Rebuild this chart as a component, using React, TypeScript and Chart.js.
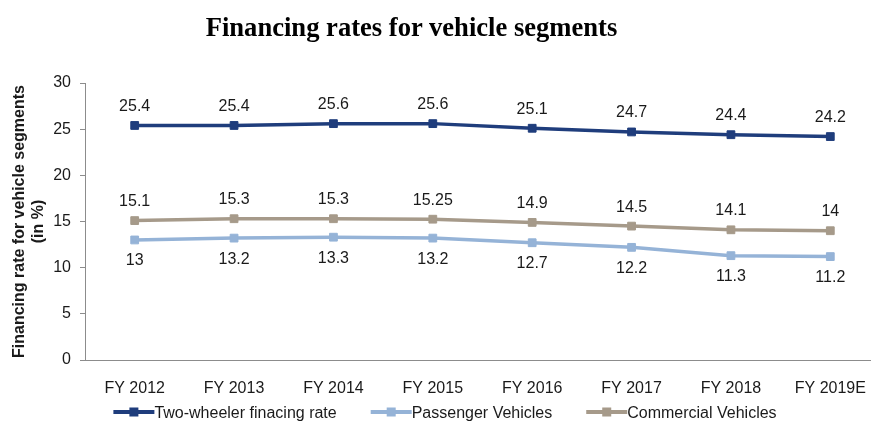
import React, { useEffect, useRef } from "react";
import { Chart, registerables } from "chart.js";

Chart.register(...registerables);

const categories = ["FY 2012", "FY 2013", "FY 2014", "FY 2015", "FY 2016", "FY 2017", "FY 2018", "FY 2019E"];
const twoWheeler = [25.4, 25.4, 25.6, 25.6, 25.1, 24.7, 24.4, 24.2];
const passenger = [13, 13.2, 13.3, 13.2, 12.7, 12.2, 11.3, 11.2];
const commercial = [15.1, 15.3, 15.3, 15.25, 14.9, 14.5, 14.1, 14];
const seriesNames = ["Two-wheeler finacing rate", "Passenger Vehicles", "Commercial Vehicles"];
const seriesColors = ["#1F3D7C", "#95B3D7", "#A69A8A"];
const labelBelow = [false, true, false];
const yTitle = ["Financing rate for vehicle segments", "(in %)"];
const chartTitle = "Financing rates for vehicle segments";

const FONT = '"Liberation Sans", Arial, sans-serif';

const valueLabels = {
  id: "valueLabels",
  afterDatasetsDraw(chart: any) {
    const ctx = chart.ctx;
    ctx.save();
    ctx.font = `16px ${FONT}`;
    ctx.fillStyle = "#1a1a1a";
    ctx.textAlign = "center";
    ctx.textBaseline = "middle";
    chart.data.datasets.forEach((ds: any, i: number) => {
      const meta = chart.getDatasetMeta(i);
      meta.data.forEach((pt: any, j: number) => {
        const dy = labelBelow[i] ? 21 : -19;
        ctx.fillText(String(ds.data[j]), pt.x, pt.y + dy);
      });
    });
    ctx.restore();
  },
};

const customLegend = {
  id: "customLegend",
  afterDraw(chart: any) {
    const ctx = chart.ctx;
    ctx.save();
    ctx.font = `16px ${FONT}`;
    ctx.textBaseline = "middle";
    ctx.textAlign = "left";
    const markerW = 41;
    const gap = 34;
    const items = chart.data.datasets.map((ds: any) => ({
      label: ds.label,
      color: ds.borderColor,
      w: ctx.measureText(ds.label).width,
    }));
    const total = items.reduce((s: number, it: any) => s + markerW + it.w, 0) + gap * (items.length - 1);
    let x = chart.width / 2 - total / 2;
    const y = 412;
    items.forEach((it: any) => {
      ctx.strokeStyle = it.color;
      ctx.lineWidth = 4;
      ctx.beginPath();
      ctx.moveTo(x, y);
      ctx.lineTo(x + markerW, y);
      ctx.stroke();
      ctx.fillStyle = it.color;
      ctx.fillRect(x + markerW / 2 - 4.5, y - 4.5, 9, 9);
      ctx.fillStyle = "#1a1a1a";
      ctx.fillText(it.label, x + markerW, y + 1.5);
      x += markerW + it.w + gap;
    });
    ctx.restore();
  },
};

export default function App() {
  const canvasRef = useRef<HTMLCanvasElement | null>(null);

  useEffect(() => {
    if (!canvasRef.current) return;
    const seriesData = [twoWheeler, passenger, commercial];
    const chart = new Chart(canvasRef.current, {
      type: "line",
      data: {
        labels: categories,
        datasets: seriesData.map((d, i) => ({
          label: seriesNames[i],
          data: d,
          borderColor: seriesColors[i],
          backgroundColor: seriesColors[i],
          borderWidth: 3.5,
          pointStyle: "rect",
          pointRadius: 5.5,
          pointBorderWidth: 1,
          pointBackgroundColor: seriesColors[i],
          pointBorderColor: seriesColors[i],
          tension: 0,
          fill: false,
        })),
      },
      options: {
        responsive: false,
        animation: false,
        devicePixelRatio: 1,
        layout: { padding: { top: 83, right: 10, left: 0, bottom: 0 } },
        plugins: {
          legend: { display: false },
          title: { display: false },
          tooltip: { enabled: false },
        },
        scales: {
          x: {
            offset: true,
            grid: { display: false },
            border: { display: true, color: "#8c8c8c", width: 1 },
            ticks: {
              padding: 11,
              color: "#1a1a1a",
              font: { family: FONT, size: 16 },
              maxRotation: 0,
              autoSkip: false,
            },
            afterFit(scale: any) {
              scale.height = 61;
            },
          },
          y: {
            min: 0,
            max: 30,
            ticks: {
              stepSize: 5,
              padding: 9,
              color: "#1a1a1a",
              font: { family: FONT, size: 16 },
            },
            grid: {
              display: true,
              drawOnChartArea: false,
              drawTicks: true,
              tickLength: 5,
              color: "#8c8c8c",
            },
            border: { display: true, color: "#8c8c8c", width: 1 },
            title: {
              display: true,
              text: yTitle,
              color: "#1a1a1a",
              font: { family: FONT, size: 16, weight: "bold", lineHeight: 1.15 },
              padding: { top: 10.5, bottom: 0 },
            },
            afterFit(scale: any) {
              scale.width = 85;
            },
          },
        },
      },
      plugins: [valueLabels, customLegend],
    } as any);
    return () => chart.destroy();
  }, []);

  return (
    <div
      style={{
        position: "absolute",
        left: 0,
        top: 0,
        width: 871,
        height: 421,
        overflow: "hidden",
        background: "#fff",
      }}
    >
      <canvas ref={canvasRef} width={890} height={421} style={{ display: "block", width: 890, height: 421 }} />
      <div
        style={{
          position: "absolute",
          left: 0,
          top: 14,
          width: 823,
          textAlign: "center",
          font: 'bold 26.6px "Liberation Serif", "Times New Roman", serif',
          lineHeight: "26px",
          color: "#000",
          whiteSpace: "nowrap",
        }}
      >
        {chartTitle}
      </div>
    </div>
  );
}
